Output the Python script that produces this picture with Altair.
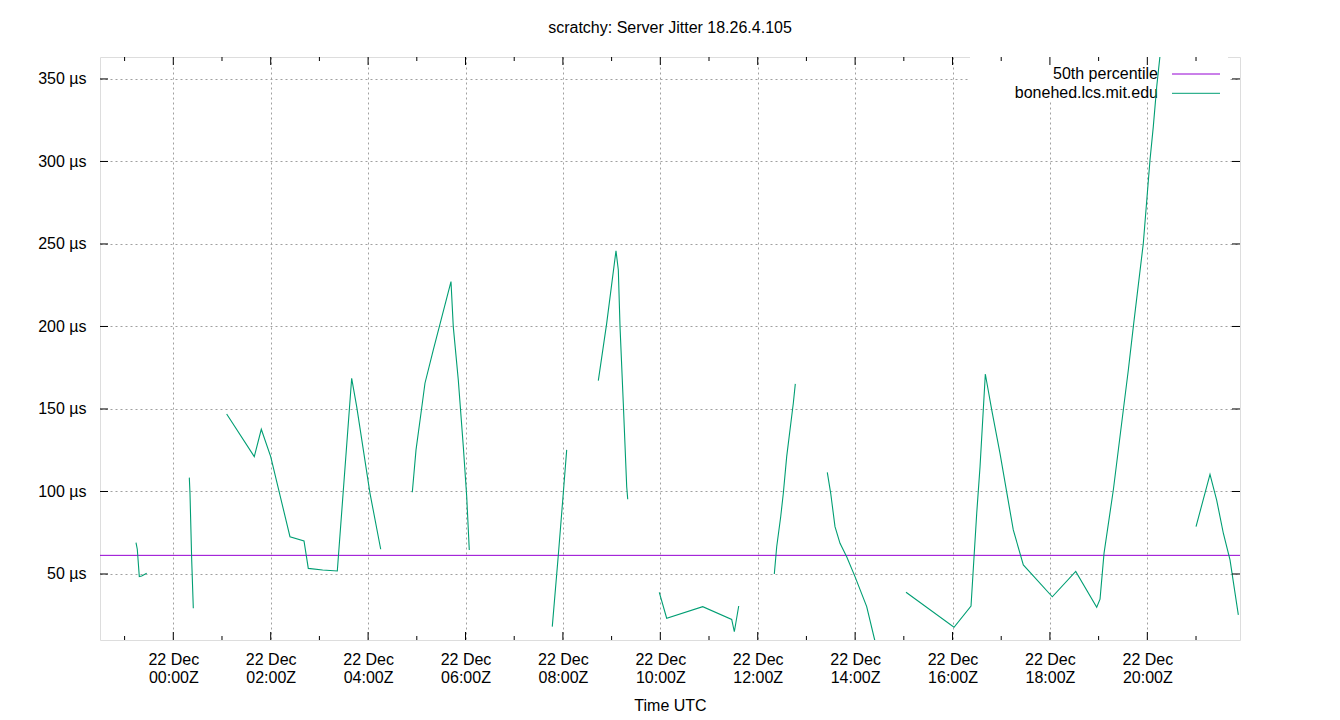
import altair as alt
import pandas as pd

TITLE = "scratchy: Server Jitter 18.26.4.105"
X_TITLE = "Time UTC"
SERIES = ["50th percentile", "bonehed.lcs.mit.edu"]
COLORS = ["#9400d3", "#009e73"]
BASE = pd.Timestamp("2023-12-22T00:00:00Z")

# Each segment: hours after 22 Dec 00:00Z and jitter in µs (gaps between segments)
seg_hours = [
    [-0.766, -0.739, -0.698, -0.649, -0.546],
    [0.329, 0.343, 0.378, 0.411],
    [1.096, 1.663, 1.807, 2.0, 2.396, 2.684, 2.772, 3.067, 3.368, 3.663, 3.766, 4.039, 4.259],
    [4.908, 4.984, 5.086, 5.168, 5.339, 5.702, 5.749, 5.852, 5.955, 6.025, 6.078],
    [7.782, 7.906, 8.008, 8.078],
    [8.727, 8.899, 9.09, 9.138, 9.173, 9.24, 9.31, 9.331],
    [9.979, 10.131, 10.871, 11.466, 11.52, 11.61],
    [12.341, 12.39, 12.472, 12.526, 12.595, 12.731, 12.772],
    [13.429, 13.499, 13.587, 13.69, 13.827, 13.998, 14.238, 14.402, 14.45],
    [15.045, 16.031, 16.38, 16.497, 16.565, 16.674, 16.702, 16.805, 16.975, 17.248, 17.454,
     18.049, 18.53, 18.961, 19.029, 19.111, 19.302, 19.507, 19.61, 19.713, 19.918, 20.055,
     20.123, 20.193, 20.3],
    [21.0, 21.287, 21.424, 21.561, 21.698, 21.869],
]
seg_values = [
    [69.0, 65.0, 48.4, 48.8, 50.4],
    [108.4, 98.9, 58.5, 29.2],
    [147.0, 121.1, 137.7, 121.1, 72.6, 70.0, 53.4, 52.4, 51.8, 168.6, 151.4, 98.9, 65.0],
    [99.5, 125.2, 147.4, 165.6, 185.8, 227.2, 199.9, 167.6, 127.2, 96.8, 64.5],
    [18.1, 61.5, 98.9, 125.2],
    [167.2, 201.9, 245.9, 234.2, 199.9, 153.5, 102.9, 95.3],
    [38.9, 23.2, 30.2, 22.5, 15.0, 30.6],
    [50.0, 66.5, 84.7, 98.9, 121.1, 153.5, 165.2],
    [111.6, 98.9, 78.7, 68.6, 60.5, 48.4, 30.2, 10.0, 4.0],
    [38.9, 17.7, 30.6, 86.8, 115.0, 171.2, 166.5, 149.4, 123.1, 76.7, 55.5,
     36.2, 51.6, 29.8, 34.7, 62.5, 100.9, 149.4, 173.6, 199.9, 250.4, 300.9,
     321.1, 345.3, 375.0],
    [78.7, 110.4, 94.8, 74.7, 58.5, 25.2],
]
median_us = 61.3

x_domain_hours = [-1.505, 21.903]
y_domain = [10, 363.3]
x_major_hours = [0, 2, 4, 6, 8, 10, 12, 14, 16, 18, 20]
x_minor_hours = [-1, 1, 3, 5, 7, 9, 11, 13, 15, 17, 19, 21]
y_ticks = [50, 100, 150, 200, 250, 300, 350]


def iso(h):
    return (BASE + pd.Timedelta(hours=h)).strftime("%Y-%m-%dT%H:%M:%SZ")


def ms(h):
    return int((BASE + pd.Timedelta(hours=h)).timestamp() * 1000)


rows = []
for i, (hs, vs) in enumerate(zip(seg_hours, seg_values)):
    for h, v in zip(hs, vs):
        rows.append({"t": iso(h), "us": v, "seg": i})
df = pd.DataFrame(rows)

W, H = 1140, 583
FONT = "Liberation Sans"

x_scale = alt.Scale(type="utc", domain=[ms(h) for h in x_domain_hours])
y_scale = alt.Scale(domain=y_domain)

x_axis = alt.Axis(
    values=[ms(h) for h in x_major_hours],
    labelExpr="[utcFormat(datum.value, '%d %b'), utcFormat(datum.value, '%H:%MZ')]",
    labelLineHeight=18, labelFontSize=16, labelFont=FONT, labelColor="black",
    labelPadding=11, ticks=False, tickSize=0, domain=False,
    grid=True, gridColor="#a0a0a0", gridDash=[2, 3], gridWidth=1,
    title=X_TITLE, titleFont=FONT, titleFontSize=16, titleFontWeight="normal",
    titleColor="black", titlePadding=12, labelFlush=False, labelOverlap=False,
)
y_axis = alt.Axis(
    values=y_ticks, labelExpr="datum.value + ' µs'",
    labelFontSize=16, labelFont=FONT, labelColor="black", labelPadding=14,
    ticks=False, tickSize=0, domain=False,
    grid=True, gridColor="#a0a0a0", gridDash=[2, 3], gridWidth=1, title=None,
)

X = alt.X("t:T", scale=x_scale, axis=x_axis)
Y = alt.Y("us:Q", scale=y_scale, axis=y_axis)

# legend background (hides grid behind the key)
legend_bg = alt.Chart(pd.DataFrame({"k": [0]})).mark_rect(fill="white", stroke=None).encode(
    x=alt.value(870), x2=alt.value(1128), y=alt.value(0), y2=alt.value(43)
)

med_df = pd.DataFrame({"us": [median_us]})
median = alt.Chart(med_df).mark_rule(color=COLORS[0], strokeWidth=1).encode(y=Y)

lines = alt.Chart(df).mark_line(color=COLORS[1], strokeWidth=1.1, clip=True).encode(
    x=X, y=Y, detail="seg:N"
)

# inward ticks
maj_df = pd.DataFrame({"t": [iso(h) for h in x_major_hours]})
min_df = pd.DataFrame({"t": [iso(h) for h in x_minor_hours]})
yt_df = pd.DataFrame({"us": y_ticks})
tick_layers = [
    alt.Chart(maj_df).mark_rule(color="black").encode(x=X, y=alt.value(H), y2=alt.value(H - 8)),
    alt.Chart(maj_df).mark_rule(color="black").encode(x=X, y=alt.value(0), y2=alt.value(8)),
    alt.Chart(min_df).mark_rule(color="black", clip=True).encode(x=X, y=alt.value(H), y2=alt.value(H - 4)),
    alt.Chart(min_df).mark_rule(color="black", clip=True).encode(x=X, y=alt.value(0), y2=alt.value(4)),
    alt.Chart(yt_df).mark_rule(color="black").encode(y=Y, x=alt.value(0), x2=alt.value(8)),
    alt.Chart(yt_df).mark_rule(color="black").encode(y=Y, x=alt.value(W), x2=alt.value(W - 8)),
]

legend_layers = []
for i, (name, col) in enumerate(zip(SERIES, COLORS)):
    ldf = pd.DataFrame({"label": [name]})
    ly = 17 + i * 19.3
    legend_layers.append(
        alt.Chart(ldf).mark_text(align="right", baseline="middle", fontSize=16, font=FONT, color="black").encode(
            x=alt.value(1058), y=alt.value(ly), text="label:N"
        )
    )
    legend_layers.append(
        alt.Chart(ldf).mark_rule(color=col, strokeWidth=1).encode(
            x=alt.value(1072), x2=alt.value(1120), y=alt.value(ly)
        )
    )

chart = alt.layer(legend_bg, *legend_layers, median, lines, *tick_layers).properties(
    width=W, height=H,
    title=alt.TitleParams(text=TITLE, fontSize=16, fontWeight="normal", font=FONT,
                          anchor="middle", color="black", offset=8, baseline="alphabetic"),
    padding={"left": 100, "top": 57, "right": 100, "bottom": 80},
    autosize="none",
).configure_view(stroke="black", strokeWidth=1).configure(background="white")

chart.save("out.html", embed_options={"renderer": "svg", "actions": False})
